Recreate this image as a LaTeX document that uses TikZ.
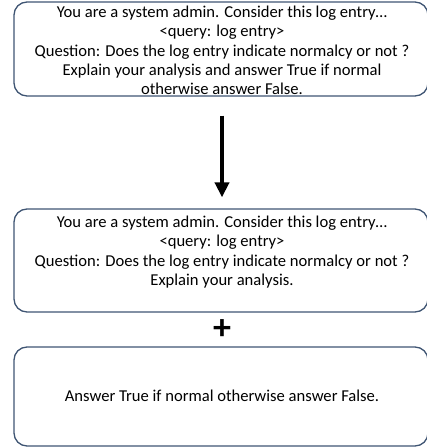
\documentclass[tikz,border=0pt]{standalone}
\usepackage{fontspec}
\setmainfont{Carlito}
\usetikzlibrary{arrows.meta}
\definecolor{edgeblue}{HTML}{3F5573}
\tikzset{
        panel/.style={rectangle, draw=edgeblue, line width=1.3pt, rounded corners=13pt, minimum width=414pt},
        prompt/.style={align=center, inner sep=0pt, font=\fontsize{16.6}{19.2}\selectfont},
        flow/.style={line width=4.2pt, -{Triangle[width=14pt,length=15pt]}},
        joiner/.style={inner sep=0pt, font=\fontsize{36}{36}\bfseries\selectfont}
          }
\begin{document}
\begin{tikzpicture}[x=1pt, y=1pt]
        \useasboundingbox (0,0) rectangle (427,447);
        % original prompt
        \node[panel, minimum height=94pt] (box1) at (221,398) {};
        \node[prompt] (txt1) at (222,396.5) {You are a system admin. Consider this log entry…\\
          <query: log entry>\\
          Question: Does the log entry indicate normalcy or not ?\\
          Explain your analysis and answer True if normal\\
          otherwise answer False.};
        % split prompt
        \node[panel, minimum height=103pt] (box2) at (221,186.5) {};
        \node[prompt] (txt2) at (222,195) {You are a system admin. Consider this log entry…\\
          <query: log entry>\\
          Question: Does the log entry indicate normalcy or not ?\\
          Explain your analysis.};
        \node[joiner] (plus) at (222,117) {+};
        \node[panel, minimum height=99pt] (box3) at (221,50.5) {};
        \node[prompt, anchor=base] (txt3) at (222,45) {Answer True if normal otherwise answer False.};
        \draw[flow, shorten <=19pt, shorten >=11pt] (box1.south -| plus) -- (box2.north -| plus);
      \end{tikzpicture}
\end{document}
